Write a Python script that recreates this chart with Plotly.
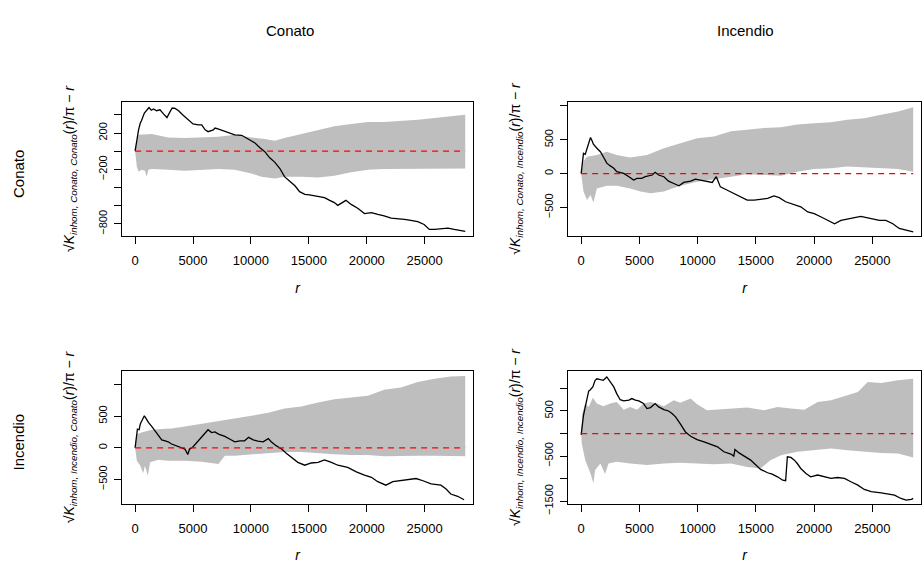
import plotly.graph_objects as go

# ---- cross-type inhomogeneous L-function envelopes: sqrt(K/pi) - r ----
MARKS = ["Conato", "Incendio"]
R_MAX = 28500
X_TICKS = [0, 5000, 10000, 15000, 20000, 25000]

# Conato -> Conato
cc_obs_r = [0, 150, 300, 450, 550, 800, 1000, 1200, 1400, 1600, 1850, 2150, 2450, 2750, 3000, 3200, 3450, 3750,
            4150, 4600, 5000, 5450, 5750, 6050, 6300, 6750, 6900, 7150, 7600, 8050, 8600, 9200, 9600, 9900, 10350,
            10750, 11200, 11600, 12050, 12500, 12900, 13350, 13800, 14200, 14650, 15050, 15800, 16350, 16800, 17200,
            17500, 17850, 18200, 18650, 19250, 19800, 20400, 20950, 21500, 22100, 22650, 23250, 23800, 24400, 24950,
            25400, 25850, 26400, 27000, 27550, 28150, 28500]
cc_obs_v = [0, 145, 235, 310, 335, 420, 455, 480, 450, 465, 445, 455, 410, 370, 430, 475, 470, 445,
            395, 345, 300, 290, 290, 235, 215, 235, 255, 245, 225, 200, 180, 175, 145, 115, 90,
            40, -5, -70, -120, -190, -280, -330, -380, -445, -475, -480, -500, -510, -540, -565,
            -595, -565, -540, -585, -630, -685, -675, -695, -710, -735, -740, -750, -760, -775, -805,
            -860, -860, -850, -845, -860, -875, -880]
cc_hi_r = [0, 300, 1450, 2850, 4300, 5750, 7200, 8600, 10050, 11200, 12050, 12900, 14350, 15800, 17200, 18650,
           20100, 21500, 22950, 24400, 25850, 27250, 28500]
cc_hi_v = [0, 180, 190, 150, 145, 150, 160, 180, 150, 135, 115, 145, 190, 235, 275, 300,
           320, 320, 330, 345, 365, 385, 400]
cc_lo_r = [0, 150, 300, 550, 850, 1000, 1150, 1450, 2850, 4300, 5750, 7200, 8600, 10050, 10900, 12050, 12900,
           14350, 15800, 17200, 18650, 20100, 21500, 22950, 24400, 25850, 27250, 28500]
cc_lo_v = [0, -170, -225, -205, -215, -280, -205, -195, -205, -215, -205, -195, -205, -245, -280, -300, -280,
           -280, -290, -270, -230, -205, -195, -190, -190, -195, -190, -190]

# Conato -> Incendio
ci_obs_r = [0, 100, 200, 350, 500, 650, 800, 900, 1050, 1350, 1650, 1900, 2200, 2500, 2800, 3050, 3350, 3650,
            4100, 4500, 4800, 5200, 5500, 5800, 6100, 6350, 6650, 7100, 7500, 7950, 8400, 8800, 9400, 9800, 10250,
            10800, 11250, 11600, 11950, 12550, 13100, 13700, 14250, 14850, 15400, 16000, 16550, 17000, 17550, 18300,
            18850, 19450, 20000, 20600, 21150, 21750, 22300, 23150, 24000, 24900, 25600, 26150, 26750, 27300, 27900,
            28500]
ci_obs_v = [0, 180, 300, 285, 375, 475, 535, 500, 435, 375, 325, 250, 155, 115, 80, 30, 20, 5,
            -45, -95, -70, -70, -45, -30, -20, 20, -20, -45, -110, -145, -180, -130, -110, -80, -95,
            -120, -130, -45, -195, -245, -290, -340, -390, -390, -375, -365, -330, -355, -415, -465,
            -490, -565, -590, -640, -690, -740, -690, -665, -630, -665, -690, -690, -740, -810, -835,
            -860]
ci_hi_r = [0, 200, 500, 1350, 2200, 3050, 4200, 5650, 7100, 8500, 9950, 11400, 12850, 14250, 15700, 17150,
           18550, 20000, 21450, 22850, 24300, 25750, 27200, 28500]
ci_hi_v = [0, 180, 250, 275, 325, 275, 240, 275, 375, 450, 525, 550, 625, 650, 675, 685,
           725, 745, 760, 795, 820, 870, 920, 980]
ci_lo_r = [0, 50, 200, 500, 800, 1050, 1350, 2200, 3050, 4200, 5100, 5950, 7100, 8500, 9950, 11400, 12850,
           14250, 15700, 17150, 18550, 20000, 21450, 22850, 24300, 25750, 27200, 28500]
ci_lo_v = [0, -70, -265, -390, -315, -425, -220, -180, -180, -220, -265, -290, -265, -180, -120, -80, -45,
           -10, -20, -30, 30, 70, 80, 105, 90, 80, 70, 30]

# Incendio -> Conato
ic_obs_r = [0, 100, 200, 350, 450, 650, 800, 900, 1150, 1450, 1700, 2000, 2300, 2600, 2850, 3150, 3600, 4000,
            4300, 4550, 4700, 4950, 5200, 5450, 5750, 6050, 6300, 6600, 6900, 7200, 7450, 7750, 8200, 8600, 9050,
            9450, 9800, 10200, 10600, 11050, 11500, 11750, 12200, 12650, 13050, 13500, 14050, 14650, 15200, 15800,
            16350, 16950, 17500, 18350, 19100, 19800, 20400, 20950, 21650, 22250, 22950, 23700, 24250, 24850,
            25550, 26400, 26850, 27250, 27850, 28400]
ic_obs_v = [0, 165, 295, 285, 375, 450, 505, 475, 400, 335, 270, 200, 125, 110, 95, 60, 30, 5,
            -20, -105, -20, 5, 60, 110, 180, 240, 285, 240, 250, 215, 200, 180, 135, 95, 110,
            110, 165, 125, 105, 95, 145, 95, 30, -20, -85, -150, -230, -275, -240, -230,
            -190, -230, -275, -310, -380, -430, -465, -535, -590, -535, -520, -505, -485, -520,
            -570, -590, -650, -730, -765, -820]
ic_hi_r = [0, 150, 550, 1450, 2300, 3150, 4300, 5750, 7200, 8600, 10050, 11500, 12900, 14350, 15800, 17200,
           18650, 20100, 21500, 22950, 24400, 25850, 27250, 28500]
ic_hi_v = [0, 215, 240, 285, 295, 305, 335, 375, 425, 460, 505, 555, 620, 650, 715, 765,
           790, 820, 915, 950, 1040, 1090, 1125, 1135]
ic_lo_r = [0, 150, 450, 700, 850, 1100, 1300, 2000, 2850, 4300, 5750, 7200, 7750, 8600, 10050, 11500, 12900,
           14350, 15800, 17200, 18650, 20100, 21500, 22950, 24400, 25850, 27250, 28500]
ic_lo_v = [0, -205, -285, -400, -285, -440, -230, -190, -205, -205, -220, -255, -125, -125, -100, -85, -65,
           -65, -85, -100, -115, -115, -135, -135, -125, -125, -125, -135]

# Incendio -> Incendio
ii_obs_r = [0, 100, 200, 350, 500, 650, 750, 1000, 1200, 1350, 1650, 1900, 2200, 2500, 2800, 3050, 3350, 3650,
            4100, 4350, 4650, 4950, 5350, 5650, 5950, 6350, 6650, 7100, 7500, 7800, 8100, 8500, 8950, 9400, 9950,
            10550, 11100, 11700, 12250, 12850, 13100, 13200, 13550, 14000, 14550, 15000, 15400, 16000, 16400,
            16850, 17300, 17550, 17700, 18000, 18300, 18550, 18850, 19300, 19700, 20300, 20850, 21450, 22000,
            22600, 23150, 23750, 24300, 24900, 25750, 26300, 26900, 27450, 27900, 28350, 28500]
ii_obs_v = [-30, 220, 405, 590, 810, 945, 960, 1035, 1180, 1215, 1195, 1180, 1255, 1145, 1035, 885, 750, 725,
            740, 775, 740, 725, 665, 555, 575, 665, 590, 530, 500, 445, 370, 220, 35, -60, -135,
            -185, -235, -295, -405, -455, -500, -355, -430, -500, -590, -700, -795, -870, -900,
            -960, -1035, -1045, -515, -530, -590, -665, -775, -885, -960, -920, -960, -995, -975,
            -995, -1070, -1145, -1240, -1290, -1315, -1340, -1365, -1440, -1475, -1460, -1440]
ii_hi_r = [0, 100, 350, 650, 1000, 1350, 1900, 2500, 3050, 3650, 4200, 4800, 5350, 5950, 6500, 7100, 7950, 8500,
           9400, 9950, 10800, 11700, 12850, 14250, 15700, 16850, 18000, 19150, 20300, 21450, 22850, 23750, 24600,
           25750, 27200, 28500]
ii_hi_v = [0, 445, 665, 590, 795, 665, 605, 665, 700, 530, 590, 530, 665, 700, 665, 605, 740, 680,
           775, 650, 515, 530, 555, 575, 515, 590, 555, 530, 700, 740, 850, 920, 1145,
           1120, 1180, 1215]
ii_lo_r = [0, 50, 350, 800, 1050, 1200, 1650, 2050, 2350, 3050, 4200, 5650, 7100, 8500, 9950, 11400, 12850,
           14250, 15400, 16250, 17150, 18550, 20000, 21450, 22850, 24300, 25750, 27200, 28500]
ii_lo_v = [0, -220, -590, -885, -1105, -810, -665, -900, -665, -625, -665, -700, -665, -650, -665, -680, -665,
           -740, -775, -590, -480, -405, -370, -330, -370, -405, -430, -445, -530]

# labelled y ticks per panel; the tick step gives the unlabelled marks in between
cc_ylabels = [-800, -200, 200]
ci_ylabels = [-500, 0, 500]
ic_ylabels = [-500, 0, 500]
ii_ylabels = [-1500, -500, 500]
cc_ystep, ci_ystep, ic_ystep, ii_ystep = 200, 500, 500, 500

W, H = 922, 563
FONT = "Liberation Sans, Arial, Helvetica, sans-serif"
GREY = "#BEBEBE"

# panel geometry in pixels: (left, right) and (top, bottom)
COL_X = [(122, 473), (568, 921)]
ROW_Y = [(102, 236), (371, 504)]
COL_TITLE_X = [290, 745]

panels = [
    dict(row=0, col=0, a="Conato", b="Conato", obs=(cc_obs_r, cc_obs_v), hi=(cc_hi_r, cc_hi_v),
         lo=(cc_lo_r, cc_lo_v), yr=[-932, 541], yl=cc_ylabels, ys=cc_ystep),
    dict(row=0, col=1, a="Conato", b="Incendio", obs=(ci_obs_r, ci_obs_v), hi=(ci_hi_r, ci_hi_v),
         lo=(ci_lo_r, ci_lo_v), yr=[-921, 1059], yl=ci_ylabels, ys=ci_ystep),
    dict(row=1, col=0, a="Incendio", b="Conato", obs=(ic_obs_r, ic_obs_v), hi=(ic_hi_r, ic_hi_v),
         lo=(ic_lo_r, ic_lo_v), yr=[-887, 1212], yl=ic_ylabels, ys=ic_ystep),
    dict(row=1, col=1, a="Incendio", b="Incendio", obs=(ii_obs_r, ii_obs_v), hi=(ii_hi_r, ii_hi_v),
         lo=(ii_lo_r, ii_lo_v), yr=[-1563, 1387], yl=ii_ylabels, ys=ii_ystep),
]


def px_x(p):
    return p / W


def px_y(p):
    return 1 - p / H


def fmt(v):
    return str(v).replace("-", "\u2212")


fig = go.Figure()
annotations = []
TICKLEN = 7

for i, p in enumerate(panels, start=1):
    xa = "x" if i == 1 else f"x{i}"
    ya = "y" if i == 1 else f"y{i}"
    (x0, x1), (y0, y1) = COL_X[p["col"]], ROW_Y[p["row"]]

    # simulation envelope as a closed polygon
    hr, hv = p["hi"]
    lr, lv = p["lo"]
    fig.add_trace(go.Scatter(x=list(hr) + list(lr)[::-1], y=list(hv) + list(lv)[::-1],
                             fill="toself", fillcolor=GREY, line=dict(width=0), mode="lines",
                             hoverinfo="skip", showlegend=False, xaxis=xa, yaxis=ya))
    # observed
    fig.add_trace(go.Scatter(x=p["obs"][0], y=p["obs"][1], mode="lines",
                             line=dict(color="black", width=1.3), showlegend=False, xaxis=xa, yaxis=ya))
    # theoretical (CSR)
    fig.add_trace(go.Scatter(x=[0, R_MAX], y=[0, 0], mode="lines",
                             line=dict(color="#FF0000", width=1.3, dash="6px,5px"),
                             showlegend=False, xaxis=xa, yaxis=ya))

    common = dict(showline=True, mirror=True, linecolor="black", linewidth=1, ticks="outside",
                  ticklen=TICKLEN, tickwidth=1, tickcolor="black", showgrid=False, zeroline=False,
                  fixedrange=True, automargin=False)
    fig.layout[xa.replace("x", "xaxis")] = dict(
        domain=[px_x(x0), px_x(x1)], anchor=ya, range=[-1130, 29170],
        tickmode="array", tickvals=X_TICKS, ticktext=[str(t) for t in X_TICKS],
        tickfont=dict(family=FONT, size=13, color="black"), ticklabelstandoff=5,
        title=dict(text="<i>r</i>", font=dict(family=FONT, size=14, color="black"), standoff=16),
        **common)
    fig.layout[ya.replace("y", "yaxis")] = dict(
        domain=[px_y(y1), px_y(y0)], anchor=xa, range=p["yr"],
        tickmode="array", tickvals=p["yl"], ticktext=[fmt(v) for v in p["yl"]], tickangle=-90,
        tickfont=dict(family=FONT, size=11, color="black"), ticklabelstandoff=3,
        minor=dict(ticks="outside", ticklen=TICKLEN, tickwidth=1, tickcolor="black",
                   tick0=0, dtick=p["ys"], showgrid=False),
        title=dict(
            text=(f"\u221a<i>K</i><sub><i>inhom, {p['a']}, {p['b']}</i></sub>"
                  f"(<i>r</i>)/\u03c0 \u2212 <i>r</i>"),
            font=dict(family=FONT, size=14, color="black"), standoff=18),
        **common)

# column headers and row labels
for c, name in enumerate(MARKS):
    annotations.append(dict(text=name, x=px_x(COL_TITLE_X[c]), y=px_y(30), xref="paper", yref="paper",
                            showarrow=False, xanchor="center", yanchor="middle",
                            font=dict(family=FONT, size=15, color="black")))
for r, name in enumerate(MARKS):
    y0, y1 = ROW_Y[r]
    annotations.append(dict(text=name, x=px_x(18), y=px_y((y0 + y1) / 2 + 5), xref="paper", yref="paper",
                            textangle=-90, showarrow=False, xanchor="center", yanchor="middle",
                            font=dict(family=FONT, size=15, color="black")))

fig.update_layout(width=W, height=H, margin=dict(l=0, r=0, t=0, b=0), plot_bgcolor="white",
                  paper_bgcolor="white", annotations=annotations, showlegend=False)

fig.write_html("out.html", config={"displayModeBar": False})
